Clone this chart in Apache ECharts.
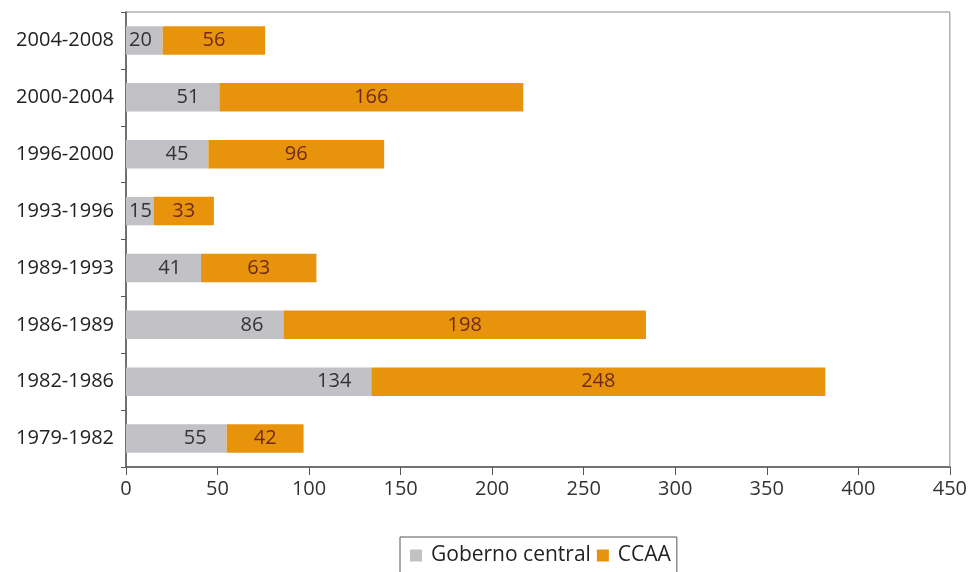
<!DOCTYPE html>
<html>
<head>
<meta charset="utf-8">
<script src="https://cdn.jsdelivr.net/npm/echarts@6/dist/echarts.min.js"></script>
<style>
  html, body { margin: 0; padding: 0; background: #ffffff; }
  #chart { width: 970px; height: 572px; }
</style>
</head>
<body>
<div id="chart"></div>
<script>
// Legislatures, bottom to top
const periods = ['1979-1982', '1982-1986', '1986-1989', '1989-1993', '1993-1996', '1996-2000', '2000-2004', '2004-2008'];
const gobiernoCentral = [55, 134, 86, 41, 15, 45, 51, 20];
const ccaa = [42, 248, 198, 63, 33, 96, 166, 56];
const xTicks = [0, 50, 100, 150, 200, 250, 300, 350, 400, 450];

const FONT = '"Open Sans", "Noto Sans", sans-serif';

// Short grey segments get their value at the left edge instead of the right
const centralData = gobiernoCentral.map(v => v < 25
  ? { value: v, label: { position: 'insideLeft', distance: 3 } }
  : v);

const chart = echarts.init(document.getElementById('chart'));
chart.setOption({
  animation: false,
  backgroundColor: '#ffffff',
  textStyle: { fontFamily: FONT },
  grid: {
    left: 126, right: 17, top: 12, bottom: 105,
    show: true, borderColor: '#8a8a8a', borderWidth: 1
  },
  legend: {
    left: 400, top: 537,
    itemWidth: 12, itemHeight: 12, itemGap: 6,
    padding: [8, 6, 14, 10],
    borderColor: '#555', borderWidth: 1,
    icon: 'rect',
    textStyle: { fontSize: 21, color: '#222', fontFamily: FONT, padding: [0, 0, 0, 4] },
    data: ['Goberno central', 'CCAA']
  },
  xAxis: {
    type: 'value',
    min: xTicks[0], max: xTicks[xTicks.length - 1], interval: 50,
    axisLine: { show: true, lineStyle: { color: '#555', width: 1.5 } },
    axisTick: { show: true, length: 8, lineStyle: { color: '#555' } },
    splitLine: { show: false },
    axisLabel: { fontSize: 20, color: '#333', margin: 12, fontFamily: FONT }
  },
  yAxis: {
    type: 'category',
    data: periods,
    axisLine: { show: true, lineStyle: { color: '#555', width: 1.5 } },
    axisTick: { show: true, length: 5, lineStyle: { color: '#555' } },
    axisLabel: { fontSize: 20, color: '#222', margin: 12, fontFamily: FONT }
  },
  series: [
    {
      name: 'Goberno central', type: 'bar', stack: 'total',
      barWidth: '50%',
      itemStyle: { color: '#c2c2c6' },
      label: { show: true, position: 'insideRight', distance: 20, fontSize: 20, color: '#333', fontFamily: FONT },
      data: centralData
    },
    {
      name: 'CCAA', type: 'bar', stack: 'total',
      barWidth: '50%',
      itemStyle: { color: '#e8930c' },
      label: { show: true, position: 'inside', fontSize: 20, color: '#6e2a1c', fontFamily: FONT },
      data: ccaa
    }
  ]
});
</script>
</body>
</html>
